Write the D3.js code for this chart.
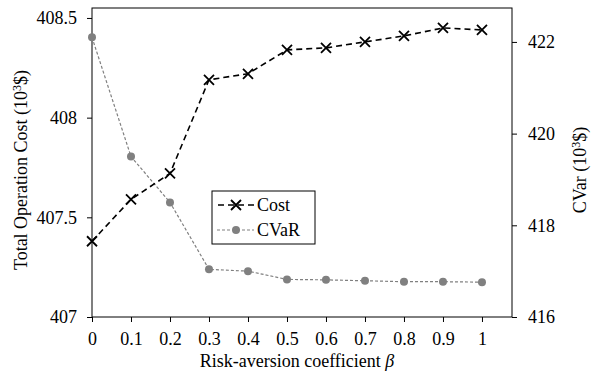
<!DOCTYPE html>
<html>
<head>
<meta charset="utf-8">
<script src="https://cdn.jsdelivr.net/npm/d3@7"></script>
<style>
  body { margin: 0; background: #fff; }
  svg text { font-family: "Liberation Serif", "Times New Roman", serif; fill: #000; }
</style>
</head>
<body>
<svg id="chart" width="595" height="378"></svg>
<script>
// data
const betas = [0, 0.1, 0.2, 0.3, 0.4, 0.5, 0.6, 0.7, 0.8, 0.9, 1];
const costValues = [407.38, 407.59, 407.72, 408.19, 408.22, 408.34, 408.35, 408.38, 408.41, 408.45, 408.44];
const cvarValues = [422.10, 419.50, 418.50, 417.04, 417.00, 416.82, 416.81, 416.79, 416.77, 416.77, 416.76];
const costTicks = [407, 407.5, 408, 408.5];
const cvarTicks = [416, 418, 420, 422];
const betaTicks = ["0", "0.1", "0.2", "0.3", "0.4", "0.5", "0.6", "0.7", "0.8", "0.9", "1"];
const seriesNames = ["Cost", "CVaR"];

const plot = { left: 92, right: 512, top: 8, bottom: 317 };
const fontSize = 18;

const svg = d3.select("#chart");

const x = d3.scaleLinear().domain([0, 1.077]).range([plot.left, plot.right]);
const yCost = d3.scaleLinear().domain([407, 408.55]).range([plot.bottom, plot.top]);
const yCvar = d3.scaleLinear().domain([416, 422.74]).range([plot.bottom, plot.top]);

// axes
const xAxis = svg.append("g")
    .attr("transform", `translate(0,${plot.bottom})`)
    .call(d3.axisBottom(x).tickValues(betaTicks.map(Number)).tickFormat((d, i) => betaTicks[i]).tickSize(5).tickPadding(10));

const leftAxis = svg.append("g")
    .attr("transform", `translate(${plot.left},0)`)
    .call(d3.axisLeft(yCost).tickValues(costTicks).tickFormat(d => String(d)).tickSize(5).tickPadding(10));

const rightAxis = svg.append("g")
    .attr("transform", `translate(${plot.right},0)`)
    .call(d3.axisRight(yCvar).tickValues(cvarTicks).tickFormat(d => String(d)).tickSize(5).tickPadding(11));

[xAxis, leftAxis, rightAxis].forEach(g => {
    g.select(".domain").remove();
    g.selectAll(".tick line").attr("stroke", "#000").attr("stroke-width", 1);
    g.selectAll(".tick text")
        .style("font-family", '"Liberation Serif", "Times New Roman", serif')
        .style("font-size", fontSize + "px")
        .attr("fill", "#000");
});

// plot frame
svg.append("rect")
    .attr("x", plot.left)
    .attr("y", plot.top)
    .attr("width", plot.right - plot.left)
    .attr("height", plot.bottom - plot.top)
    .attr("fill", "none")
    .attr("stroke", "#000")
    .attr("stroke-width", 1);

// axis titles
svg.append("text")
    .attr("x", 297)
    .attr("y", 367)
    .attr("text-anchor", "middle")
    .style("font-size", fontSize + "px")
    .text("Risk-aversion coefficient ")
    .append("tspan")
    .style("font-style", "italic")
    .text("β");

function unitTitle(label, cx, cy) {
    const t = svg.append("text")
        .attr("transform", `translate(${cx},${cy}) rotate(-90)`)
        .attr("text-anchor", "middle")
        .style("font-size", fontSize + "px");
    t.append("tspan").text(label + " (10");
    t.append("tspan").attr("dy", -6).style("font-size", "12px").text("3");
    t.append("tspan").attr("dy", 6).text("$)");
}
unitTitle("Total Operation Cost", 27, 170);
unitTitle("CVar", 586, 170);

// lines
const costLine = d3.line().x((d, i) => x(betas[i])).y(d => yCost(d));
const cvarLine = d3.line().x((d, i) => x(betas[i])).y(d => yCvar(d));

svg.append("path")
    .datum(cvarValues)
    .attr("d", cvarLine)
    .attr("fill", "none")
    .attr("stroke", "#808080")
    .attr("stroke-width", 1.2)
    .attr("stroke-dasharray", "3,2");

svg.selectAll(".cvar-dot")
    .data(cvarValues)
    .enter()
    .append("circle")
    .attr("class", "cvar-dot")
    .attr("cx", (d, i) => x(betas[i]))
    .attr("cy", d => yCvar(d))
    .attr("r", 4)
    .attr("fill", "#808080");

svg.append("path")
    .datum(costValues)
    .attr("d", costLine)
    .attr("fill", "none")
    .attr("stroke", "#000")
    .attr("stroke-width", 1.6)
    .attr("stroke-dasharray", "6,4");

const cross = "M-5,-5L5,5M5,-5L-5,5";
svg.selectAll(".cost-mark")
    .data(costValues)
    .enter()
    .append("path")
    .attr("class", "cost-mark")
    .attr("d", cross)
    .attr("transform", (d, i) => `translate(${x(betas[i])},${yCost(d)})`)
    .attr("fill", "none")
    .attr("stroke", "#000")
    .attr("stroke-width", 1.8);

// legend
const legend = svg.append("g").attr("transform", "translate(212,191)");
legend.append("rect")
    .attr("width", 103)
    .attr("height", 53)
    .attr("fill", "#fff")
    .attr("stroke", "#000")
    .attr("stroke-width", 1);

const costRow = legend.append("g").attr("transform", "translate(0,14)");
costRow.append("line")
    .attr("x1", 5).attr("x2", 42)
    .attr("stroke", "#000").attr("stroke-width", 1.6).attr("stroke-dasharray", "6,4")
    .attr("stroke-dashoffset", -1);
costRow.append("path")
    .attr("d", cross)
    .attr("transform", "translate(24,0)")
    .attr("fill", "none").attr("stroke", "#000").attr("stroke-width", 1.8);
costRow.append("text")
    .attr("x", 45).attr("dy", "0.35em")
    .style("font-size", fontSize + "px")
    .text(seriesNames[0]);

const cvarRow = legend.append("g").attr("transform", "translate(0,39)");
cvarRow.append("line")
    .attr("x1", 5).attr("x2", 42)
    .attr("stroke", "#808080").attr("stroke-width", 1.2).attr("stroke-dasharray", "3,2");
cvarRow.append("circle")
    .attr("cx", 24).attr("r", 4).attr("fill", "#808080");
cvarRow.append("text")
    .attr("x", 45).attr("dy", "0.35em")
    .style("font-size", fontSize + "px")
    .text(seriesNames[1]);
</script>
</body>
</html>
